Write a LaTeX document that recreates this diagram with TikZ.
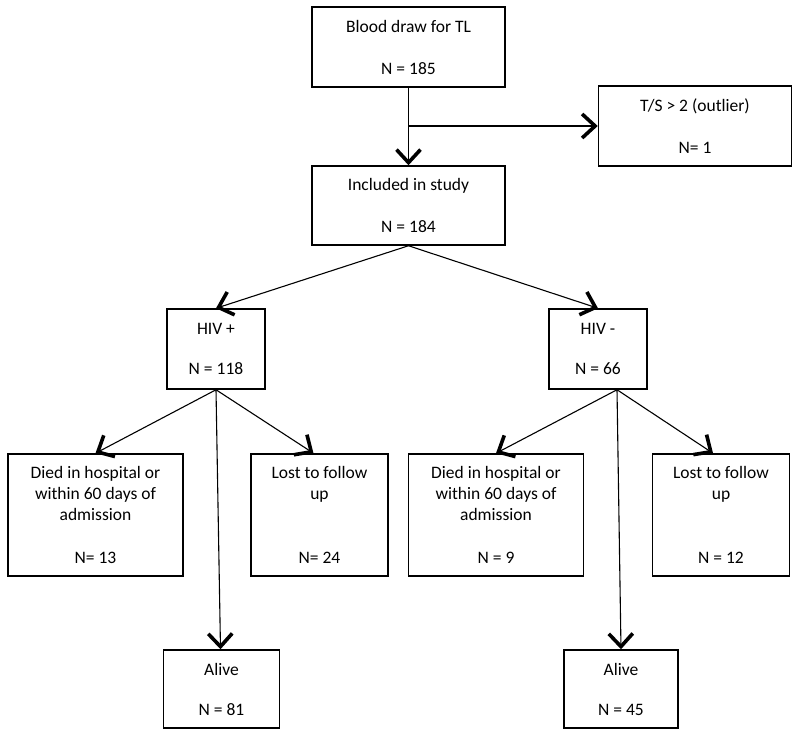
\documentclass[tikz,border=0pt]{standalone}
\usepackage{fontspec}
\setmainfont{Carlito}
\usetikzlibrary{arrows.meta,positioning}

\begin{document}
\begin{tikzpicture}[
    x=1pt, y=-1pt,
    box/.style={rectangle,draw,line width=1.5pt,align=center,inner sep=0pt,
      font=\fontsize{17.5}{21}\selectfont},
    topbox/.style={box,minimum width=193pt,minimum height=80pt},
    hivbox/.style={box,minimum width=98pt,minimum height=80pt},
    diedbox/.style={box,minimum width=175pt,minimum height=122pt},
    lostbox/.style={box,minimum width=137pt,minimum height=122pt},
    alivebox/.style={box,minimum width=116pt,minimum height=78pt},
    arrow/.style={-{Straight Barb[length=13pt,width=24pt,line width=3.6pt]},line width=1.1pt}
  ]
    \useasboundingbox (0,0) rectangle (800,740);
    \node[topbox] (blood) at (408.5,47) {Blood draw for TL\\[21pt]N = 185};
    \node[topbox] (outlier) at (695,126) {T/S > 2 (outlier)\\[21pt]N= 1};
    \node[topbox,minimum height=79pt] (incl) at (408.5,205.5) {Included in study\\[21pt]N = 184};

    \node[hivbox] (hivp) at (216,349) {HIV +\\[19pt]N = 118};
    \node[hivbox] (hivn) at (598,349) {HIV -\\[19pt]N = 66};

    \node[diedbox] (diedp) at (95.5,515) {Died in hospital or\\within 60 days of\\admission\\[22pt]N= 13};
    \node[lostbox] (lostp) at (319.5,515) {Lost to follow\\up\\[43pt]N= 24};
    \node[alivebox] (alivep) at (221.5,689) {Alive\\[19pt]N = 81};

    \node[diedbox] (diedn) at (496,515) {Died in hospital or\\within 60 days of\\admission\\[22pt]N = 9};
    \node[lostbox] (lostn) at (721,515) {Lost to follow\\up\\[43pt]N = 12};
    \node[alivebox,minimum width=114pt] (aliven) at (621,689) {Alive\\[19pt]N = 45};

    \coordinate (split) at (blood.south |- outlier.west);
    \draw[arrow] (blood) -- (incl);
    \draw[arrow] (split) -- (outlier);
    \draw[arrow] (incl.south) -- (hivp.north);
    \draw[arrow] (incl.south) -- (hivn.north);

    \draw[arrow] (hivp.south) -- (diedp.north);
    \draw[arrow] (hivp.south) -- ([xshift=-6pt]lostp.north);
    \draw[arrow] (hivp.south) -- ([xshift=-1pt]alivep.north);
    \draw[arrow] ([xshift=19pt]hivn.south) -- (diedn.north);
    \draw[arrow] ([xshift=19pt]hivn.south) -- ([xshift=-8pt]lostn.north);
    \draw[arrow] ([xshift=19pt]hivn.south) -- (aliven.north);
\end{tikzpicture}
\end{document}
